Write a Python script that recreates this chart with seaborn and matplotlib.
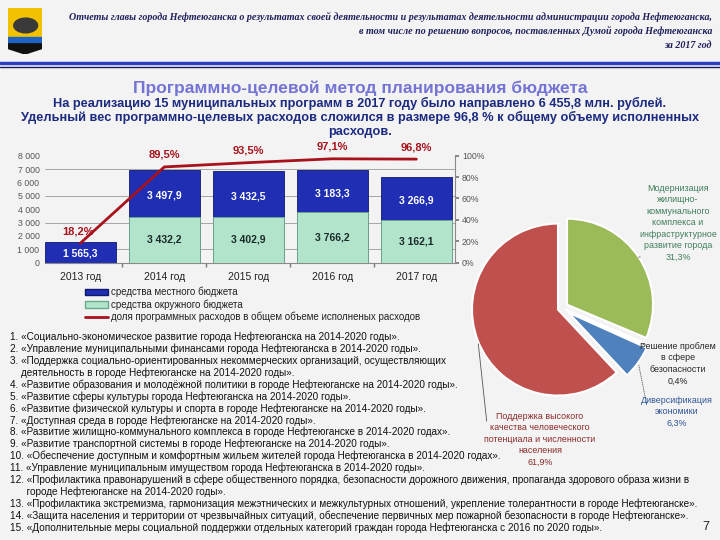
import numpy as np
import pandas as pd
import matplotlib
matplotlib.use("Agg")
import matplotlib.pyplot as plt
import seaborn as sns
from matplotlib.patches import Patch, Polygon, Rectangle, Ellipse
from matplotlib.lines import Line2D

# Данные
years = ["2013 год", "2014 год", "2015 год", "2016 год", "2017 год"]
local_budget = [1565.3, 3497.9, 3432.5, 3183.3, 3266.9]
okrug_budget = [0.0, 3432.2, 3402.9, 3766.2, 3162.1]
share_pct = [18.2, 89.5, 93.5, 97.1, 96.8]

pie_values = [31.3, 0.4, 6.3, 61.9]
pie_names = [
    "Модернизация\nжилищно-\nкоммунального\nкомплекса и\nинфраструктурное\nразвитие города",
    "Решение проблем\nв сфере\nбезопасности",
    "Диверсификация\nэкономики",
    "Поддержка высокого\nкачества человеческого\nпотенциала и численности\nнаселения",
]
pie_colors = ["#9bbb59", "#243f60", "#4f81bd", "#c0504d"]
pie_text_colors = ["#3f7d5a", "#262626", "#2f5597", "#8b2a2a"]

programs = [
    "1. «Социально-экономическое развитие города Нефтеюганска на 2014-2020 годы».",
    "2. «Управление муниципальными финансами города Нефтеюганска в 2014-2020 годы».",
    "3. «Поддержка социально-ориентированных некоммерческих организаций, осуществляющих",
    "    деятельность в городе Нефтеюганске на 2014-2020 годы».",
    "4. «Развитие образования и молодёжной политики в городе Нефтеюганске на 2014-2020 годы».",
    "5. «Развитие сферы культуры города Нефтеюганска на 2014-2020 годы».",
    "6. «Развитие физической культуры и спорта в городе Нефтеюганске на 2014-2020 годы».",
    "7. «Доступная среда в городе Нефтеюганске на 2014-2020 годы».",
    "8. «Развитие жилищно-коммунального комплекса в городе Нефтеюганске в 2014-2020 годах».",
    "9. «Развитие транспортной системы в городе Нефтеюганске на 2014-2020 годы».",
    "10. «Обеспечение доступным и комфортным жильем жителей города Нефтеюганска в 2014-2020 годах».",
    "11. «Управление муниципальным имуществом города Нефтеюганска в 2014-2020 годы».",
    "12. «Профилактика правонарушений в сфере общественного порядка, безопасности дорожного движения, пропаганда здорового образа жизни в",
    "      городе Нефтеюганске на 2014-2020 годы».",
    "13. «Профилактика экстремизма, гармонизация межэтнических и межкультурных отношений, укрепление толерантности в городе Нефтеюганске».",
    "14. «Защита населения и территории от чрезвычайных ситуаций, обеспечение первичных мер пожарной безопасности в городе Нефтеюганске».",
    "15. «Дополнительные меры социальной поддержки отдельных категорий граждан города Нефтеюганска с 2016 по 2020 годы».",
]

BLUE = "#1f2eb3"
GREEN = "#b2e4cb"
RED = "#a8121c"
W, H = 720, 540


def fmt(v):
    return f"{v:,.1f}".replace(",", " ").replace(".", ",")


def fy(y):
    # пиксели сверху -> доля фигуры
    return 1 - y / H


sns.set_theme(style="white")
plt.rcParams["font.family"] = ["Liberation Sans", "DejaVu Sans"]

fig = plt.figure(figsize=(7.2, 5.4), dpi=100, facecolor="#f3f3f3")

# Герб (упрощённо)
lax = fig.add_axes([8 / W, fy(54), 34 / W, 46 / H])
lax.set_xlim(0, 1)
lax.set_ylim(0, 1)
lax.axis("off")
lax.add_patch(Polygon([[0, 0.35], [0, 1], [1, 1], [1, 0.35]], color="#f2c200"))
lax.add_patch(Rectangle((0, 0.22), 1, 0.16, color="#1f63c4"))
lax.add_patch(Polygon([[0, 0.22], [1, 0.22], [1, 0.12], [0.5, 0.0], [0, 0.12]], color="#111111"))
lax.add_patch(Ellipse((0.52, 0.62), 0.7, 0.32, color="#3a3a3a"))

# Шапка
header = [
    "Отчеты главы города Нефтеюганска о результатах своей деятельности и результатах деятельности администрации города Нефтеюганска,",
    "в том числе по решению вопросов, поставленных Думой города Нефтеюганска",
    "за 2017 год",
]
for i, line in enumerate(header):
    fig.text(712 / W, fy(17 + 14 * i), line, ha="right", va="center", fontsize=7.2,
             style="italic", weight="bold", family="Liberation Serif", color="#1f1f5c")
fig.add_artist(Line2D([0, 1], [fy(63), fy(63)], color="#2b3fc0", lw=2.5))
fig.add_artist(Line2D([0, 1], [fy(66.5), fy(66.5)], color="#141a60", lw=1))

# Заголовок
fig.text(0.5, fy(88), "Программно-целевой метод планирования бюджета", ha="center", va="center",
         fontsize=12.5, weight="bold", color="#7474d4")
subtitle = [
    "На реализацию 15 муниципальных программ в 2017 году было направлено 6 455,8 млн. рублей.",
    "Удельный вес программно-целевых расходов сложился в размере 96,8 % к общему объему исполненных",
    "расходов.",
]
for i, line in enumerate(subtitle):
    fig.text(0.5, fy(103 + 14.5 * i), line, ha="center", va="center", fontsize=9.2,
             weight="bold", color="#1c2a80")

# Столбчатая диаграмма
df = pd.DataFrame({"year": years, "local": local_budget, "okrug": okrug_budget})
df["total"] = df["local"] + df["okrug"]

ax = fig.add_axes([45 / W, fy(262.7), 410 / W, 107 / H])
ax.set_facecolor("none")
for v in [1000, 3000, 5000, 7000]:
    ax.axhline(v, color="#9a9a9a", lw=0.6, zorder=0)
sns.barplot(data=df, x="year", y="total", color=BLUE, width=0.845, saturation=1,
            errorbar=None, edgecolor="#10186a", linewidth=0.6, ax=ax, zorder=2)
sns.barplot(data=df, x="year", y="okrug", color=GREEN, width=0.845, saturation=1,
            errorbar=None, edgecolor="#6aa88a", linewidth=0.6, ax=ax, zorder=3)

for i in range(len(years)):
    ok = okrug_budget[i]
    lo = local_budget[i]
    ax.text(i, ok + lo * 0.45, fmt(lo), ha="center", va="center", color="white",
            fontsize=7.5, weight="bold", zorder=5)
    if ok > 0:
        ax.text(i, ok * 0.5, fmt(ok), ha="center", va="center", color="#1a2a2a",
                fontsize=7.5, weight="bold", zorder=5)

ax.set_ylim(0, 8000)
ax.set_yticks(range(0, 8001, 1000))
ax.set_yticklabels([f"{v:,}".replace(",", " ") for v in range(0, 8001, 1000)])
ax.set_xlabel("")
ax.set_ylabel("")
ax.set_xticks(np.arange(0.5, 4, 1), minor=True)
ax.tick_params(axis="x", which="major", length=0, pad=7, labelsize=7.5, labelcolor="#222222")
ax.tick_params(axis="x", which="minor", length=3, color="#777777", bottom=True)
ax.tick_params(axis="y", length=0, labelsize=6.3, labelcolor="#555555", pad=4)
for s in ["top", "left", "right"]:
    ax.spines[s].set_visible(False)
ax.spines["bottom"].set_color("#8a8a8a")
ax.spines["bottom"].set_linewidth(0.8)

ax2 = ax.twinx()
sns.lineplot(x=np.arange(len(years)), y=share_pct, color=RED, lw=2, ax=ax2, zorder=6)
ax2.set_ylim(0, 100)
ax2.set_yticks(range(0, 101, 20))
ax2.set_yticklabels([f"{v}%" for v in range(0, 101, 20)])
ax2.tick_params(axis="y", length=3, direction="out", color="#777777", labelsize=6.3,
                labelcolor="#555555", pad=2, right=True)
for s in ["top", "left", "bottom"]:
    ax2.spines[s].set_visible(False)
ax2.spines["right"].set_color("#8a8a8a")
ax2.spines["right"].set_linewidth(0.8)
for i, p in enumerate(share_pct):
    ax2.annotate(f"{p:.1f}%".replace(".", ","), xy=(i, p), xytext=(-2 if i == 0 else 0, 5),
                 textcoords="offset points", ha="center", va="bottom", color=RED,
                 fontsize=8, weight="bold")
ax.set_xlim(-0.42, 4.46)
ax2.set_xlim(-0.42, 4.46)

handles = [
    Patch(facecolor=BLUE, edgecolor="#10186a"),
    Patch(facecolor=GREEN, edgecolor="#6aa88a"),
    Line2D([0], [0], color=RED, lw=2),
]
labels = [
    "средства местного бюджета",
    "средства окружного бюджета",
    "доля программных расходов в общем объеме исполненых расходов",
]
fig.legend(handles, labels, loc="upper left", bbox_to_anchor=(85 / W, fy(287)), frameon=False,
           fontsize=7, handlelength=2.4, handleheight=0.6, labelspacing=0.2,
           borderaxespad=0, borderpad=0, handletextpad=0.3, labelcolor="#222222")

# Круговая диаграмма
cx, cy, R = 562, 308, 86
k = 1.3
pax = fig.add_axes([(cx - R * k) / W, fy(cy + R * k), 2 * R * k / W, 2 * R * k / H])
wedges, _ = pax.pie(pie_values, colors=pie_colors, startangle=90, counterclock=False,
                    explode=[0.07, 0.04, 0.09, 0.05],
                    wedgeprops=dict(edgecolor="white", linewidth=1.5))
pax.set_xlim(-k, k)
pax.set_ylim(-k, k)
pax.set_aspect("equal")
pax.axis("off")

label_pos = [(678, 184), (678, 342), (677, 396), (540, 412)]
line_end = [(643, 257), (641, 347), (646, 401), (487, 424)]
for w, name, val, col, (tx, ty), (lx, ly) in zip(wedges, pie_names, pie_values, pie_text_colors,
                                                  label_pos, line_end):
    ang = np.deg2rad((w.theta1 + w.theta2) / 2)
    px = w.center[0] + w.r * np.cos(ang)
    py = w.center[1] + w.r * np.sin(ang)
    pax.annotate("", xy=(px, py), xytext=(lx, H - ly), textcoords="figure pixels",
                 arrowprops=dict(arrowstyle="-", color="#555555", lw=0.6,
                                 linestyle=":" if val == 6.3 else "-"))
    fig.text(tx / W, fy(ty), name + "\n" + f"{val:.1f}%".replace(".", ","), ha="center",
             va="top", fontsize=6.4, color=col, linespacing=1.35)

# Перечень программ
for i, line in enumerate(programs):
    fig.text(10 / W, fy(337 + 11.9 * i), line, ha="left", va="center", fontsize=7.2,
             color="#111111")
fig.text(706 / W, fy(527), "7", ha="center", va="center", fontsize=9, color="#222222")

fig.savefig("out.png", dpi=100, facecolor=fig.get_facecolor())
